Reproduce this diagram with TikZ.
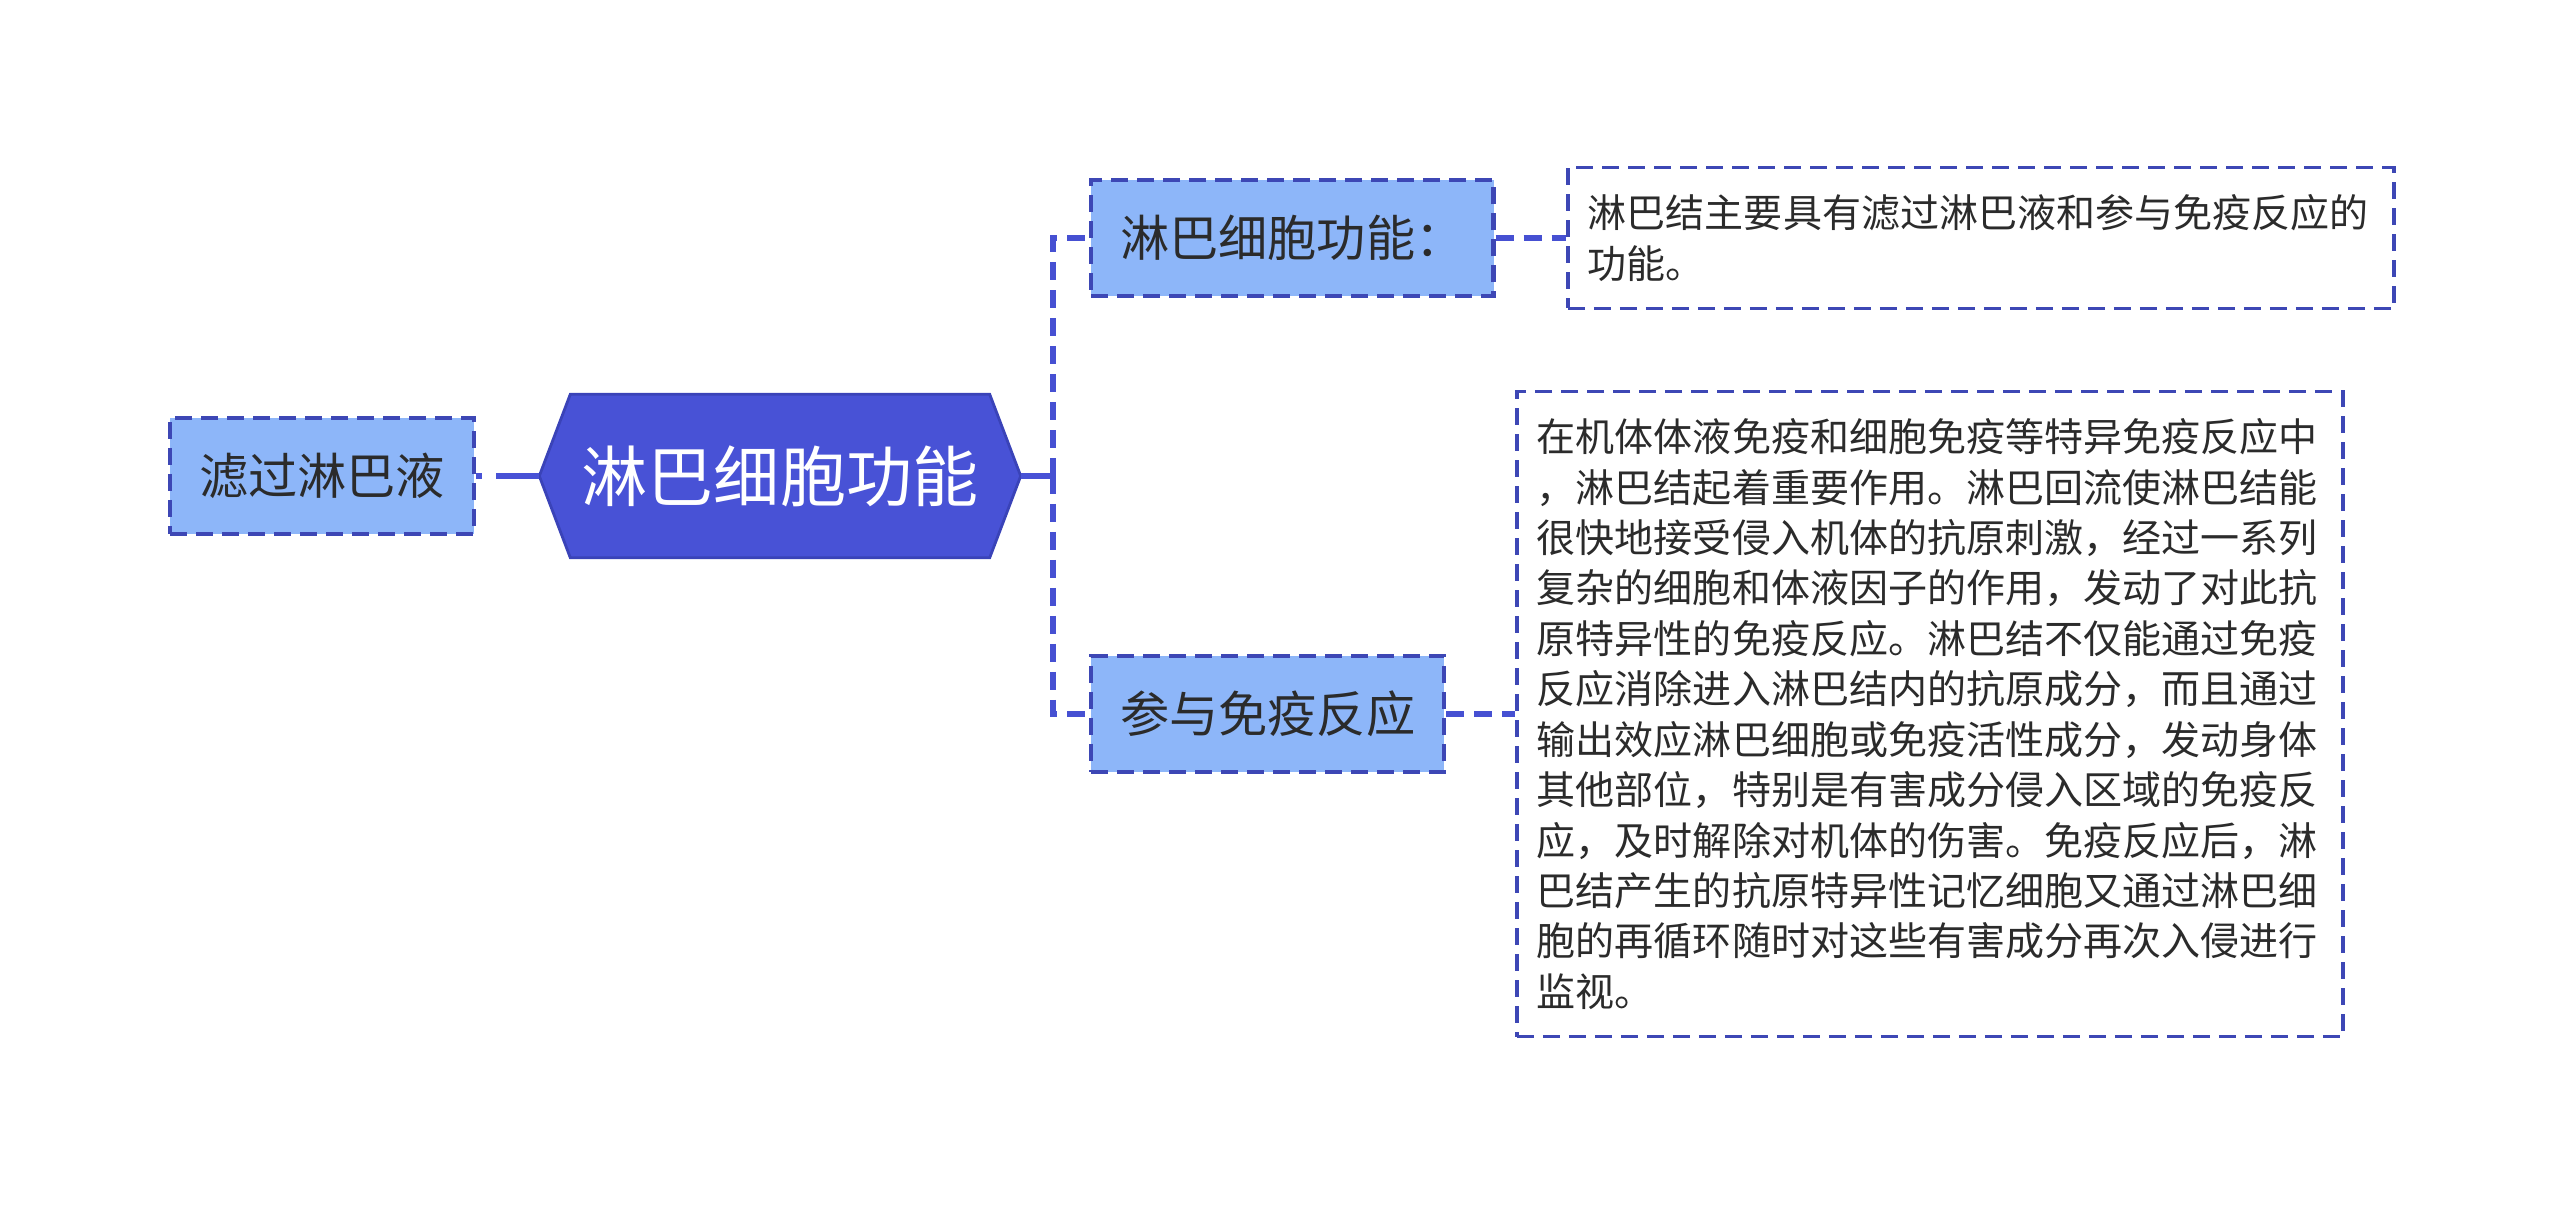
\documentclass[tikz,border=0pt]{standalone}
\usepackage{fontspec}
\setmainfont{Noto Sans CJK SC}
\usetikzlibrary{backgrounds}

\begin{document}
\begin{tikzpicture}[
  rootlbl/.style={font=\fontsize{18.8}{22}\selectfont, text=white,
    minimum width=4.80cm, minimum height=1.62cm, inner sep=0pt},
  toplbl/.style={font=\fontsize{14}{17}\selectfont, text=textDark, fill=topicFill,
    draw=lineBlue, line width=1.2pt, dash pattern=on 0.17cm off 0.09cm,
    minimum height=1.16cm, inner xsep=0.29cm, inner ysep=0pt, anchor=west},
  notelbl/.style={font=\fontsize{11.1}{14.35}\selectfont, text=textDark, fill=white,
    draw=lineBlue, line width=1.1pt, dash pattern=on 0.17cm off 0.09cm,
    align=left, text width=7.86cm, inner xsep=0.2cm, anchor=west},
  trunk/.style={line width=1.7pt, draw=rootFill},
  twig/.style={line width=1.6pt, draw=twigBlue, dash pattern=on 0.18cm off 0.10cm},
]

%% ── Colours ──────────────────────────────────────────────────────────────────
\definecolor{rootFill}{HTML}{4852D6}
\definecolor{rootEdge}{HTML}{3A43B8}
\definecolor{topicFill}{HTML}{8DB6F9}
\definecolor{lineBlue}{HTML}{3D47B5}
\definecolor{twigBlue}{HTML}{4650D2}
\definecolor{textDark}{HTML}{2B2B2B}

\useasboundingbox (0,0) rectangle (25.6,-12.07);

%% ── Root and left topic ──────────────────────────────────────────────────────
\node[rootlbl] (root) at (7.80,-4.76) {淋巴细胞功能};
\node[toplbl]  (filt) at (1.68,-4.76) {滤过淋巴液};

\begin{scope}[on background layer]
\filldraw[fill=rootFill, draw=rootEdge, line width=0.8pt]
  ([xshift=0.31cm]root.north west) -- ([xshift=-0.31cm]root.north east) -- (root.east)
  -- ([xshift=-0.31cm]root.south east) -- ([xshift=0.31cm]root.south west) -- (root.west) -- cycle;
\end{scope}

%% ── Right topics ─────────────────────────────────────────────────────────────
\node[toplbl] (func)   at (10.89,-2.38) {淋巴细胞功能：};
\node[toplbl] (immune) at (10.89,-7.14) {参与免疫反应};

%% ── Notes ────────────────────────────────────────────────────────────────────
\node[notelbl, minimum height=1.41cm] (funcNote) at (15.66,-2.38)
  {淋巴结主要具有滤过淋巴液和参与免疫反应的\\功能。};
\node[notelbl, minimum height=6.45cm] (immuneNote) at (15.15,-7.14)
  {在机体体液免疫和细胞免疫等特异免疫反应中\\
   ，淋巴结起着重要作用。淋巴回流使淋巴结能\\
   很快地接受侵入机体的抗原刺激，经过一系列\\
   复杂的细胞和体液因子的作用，发动了对此抗\\
   原特异性的免疫反应。淋巴结不仅能通过免疫\\
   反应消除进入淋巴结内的抗原成分，而且通过\\
   输出效应淋巴细胞或免疫活性成分，发动身体\\
   其他部位，特别是有害成分侵入区域的免疫反\\
   应，及时解除对机体的伤害。免疫反应后，淋\\
   巴结产生的抗原特异性记忆细胞又通过淋巴细\\
   胞的再循环随时对这些有害成分再次入侵进行\\
   监视。};

%% ── Connectors ───────────────────────────────────────────────────────────────
\coordinate (fork) at (10.53,-4.76);
\draw[trunk, dash pattern=on 0.06cm off 0.14cm on 3cm off 0.01cm] (filt.east) -- (root.west);
\draw[trunk] (root.east) -- (fork);
\draw[twig] (fork) |- (func.west);
\draw[twig] (fork) |- (immune.west);
\draw[twig] (func.east) -- (funcNote.west);
\draw[twig] (immune.east) -- (immuneNote.west);

\end{tikzpicture}
\end{document}
